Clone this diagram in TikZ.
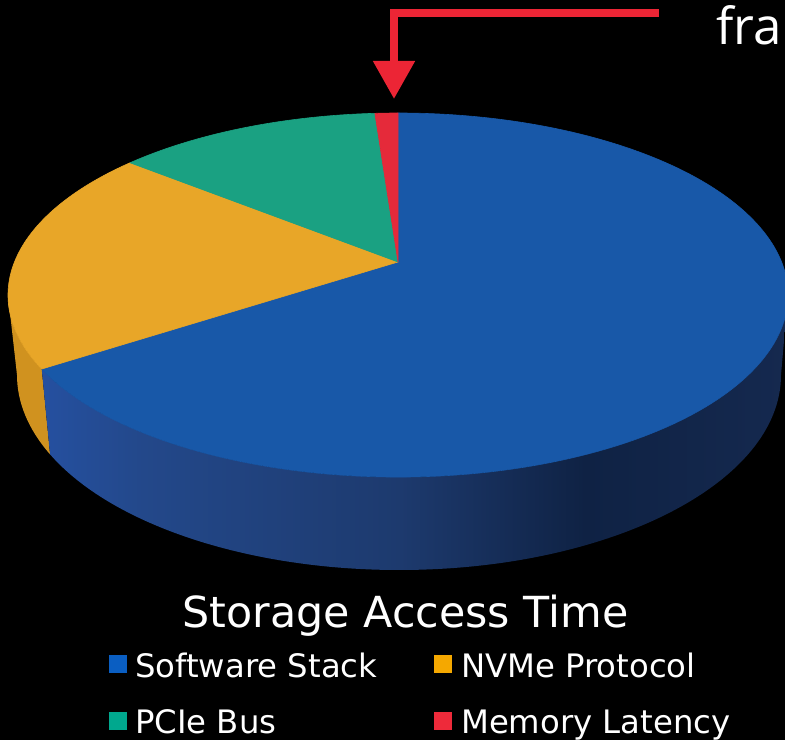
\documentclass[tikz,border=0pt]{standalone}
\usepackage{fontspec}
\setmainfont{DejaVu Sans}
\newfontfamily\fraFont{Open Sans}
\usetikzlibrary{arrows.meta}
\definecolor{bluetop}{HTML}{1858A8}
\definecolor{orangetop}{HTML}{E8A628}
\definecolor{orangeside}{HTML}{D0921F}
\definecolor{greentop}{HTML}{1AA182}
\definecolor{redtop}{HTML}{E52A3A}
\definecolor{arrowred}{HTML}{EC2535}
\definecolor{bsA}{HTML}{2550A0}
\definecolor{bsB}{HTML}{23488A}
\definecolor{bsC}{HTML}{1D3A6E}
\definecolor{bsD}{HTML}{0F2244}
\definecolor{bsE}{HTML}{15294F}
\definecolor{lgBlue}{HTML}{0A5EC2}
\definecolor{lgOrange}{HTML}{F5A800}
\definecolor{lgGreen}{HTML}{00A88E}
\definecolor{lgRed}{HTML}{EE2A3A}
\pgfdeclarehorizontalshading{bluesideshade}{100bp}{color(0bp)=(bsA); color(25bp)=(bsA); color(31.8bp)=(bsB); color(49bp)=(bsC); color(61.4bp)=(bsD); color(75bp)=(bsE); color(100bp)=(bsE)}
\tikzset{
  legsq/.style={draw=none, minimum width=18pt, minimum height=18pt, inner sep=0pt, outer sep=0pt},
  legtxt/.style={text=white, inner sep=0pt, anchor=base west, font=\fontsize{32.3}{38}\selectfont},
  slicetop/.style={fill=#1, draw=#1, line width=0.6pt, line join=round}
}
\begin{document}
\begin{tikzpicture}[x=1pt,y=1pt]
\fill[black] (0,0) rectangle (785,740);
\useasboundingbox (0,0) rectangle (785,740);
\coordinate (T) at (398,445);
\coordinate (A) at (398,478);
\coordinate (B) at (399,365);
% sides
\fill[orangeside] ([shift={(180:390 and 182)}]T) arc[start angle=180,end angle=204,x radius=390,y radius=182]
  -- ([shift={(204:382 and 195)}]B) arc[start angle=204,end angle=180,x radius=382,y radius=195] -- cycle;
\shade[shading=bluesideshade] ([shift={(204:390 and 182)}]T) arc[start angle=204,end angle=360,x radius=390,y radius=182]
  -- ([shift={(360:382 and 195)}]B) arc[start angle=360,end angle=204,x radius=382,y radius=195] -- cycle;
% top faces
\filldraw[slicetop=bluetop] (A) -- ([shift={(204:390 and 182)}]T) arc[start angle=204,end angle=450,x radius=390,y radius=182] -- cycle;
\filldraw[slicetop=orangetop] (A) -- ([shift={(133.4:390 and 182)}]T) arc[start angle=133.4,end angle=204,x radius=390,y radius=182] -- cycle;
\filldraw[slicetop=greentop] (A) -- ([shift={(93.4:390 and 182)}]T) arc[start angle=93.4,end angle=133.4,x radius=390,y radius=182] -- cycle;
\filldraw[slicetop=redtop] (A) -- ([shift={(90:390 and 182)}]T) arc[start angle=90,end angle=93.4,x radius=390,y radius=182] -- cycle;
% arrow
\coordinate (arrS) at (659,727);
\coordinate (arrT) at (394,641);
\draw[arrowred, line width=8pt, -{Triangle[width=40pt,length=38pt]}] (arrS) -| (arrT);
\node[text=white, inner sep=0pt, anchor=base west, font=\fraFont\fontsize{51}{58}\selectfont] (fra) at (716,695) {fra};
% title and legend
\node[text=white, inner sep=0pt, anchor=base, font=\fontsize{42.8}{48}\selectfont] (title) at (405.5,113) {Storage Access Time};
\node[legsq, fill=lgBlue] (sq1) at (118,76) {};
\node[legtxt] (t1) at (135,63) {Software Stack};
\node[legsq, fill=lgOrange] (sq2) at (443,76) {};
\node[legtxt] (t2) at (461,63) {NVMe Protocol};
\node[legsq, fill=lgGreen] (sq3) at (118,19) {};
\node[legtxt] (t3) at (135,7) {PCIe Bus};
\node[legsq, fill=lgRed] (sq4) at (443,19) {};
\node[legtxt] (t4) at (461,7) {Memory Latency};
\end{tikzpicture}
\end{document}
